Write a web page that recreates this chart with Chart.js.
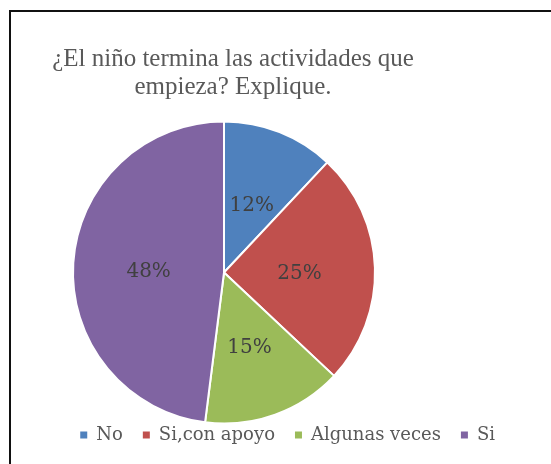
<!DOCTYPE html>
<html><head><meta charset="utf-8">
<script src="https://cdn.jsdelivr.net/npm/chart.js@4.4.1/dist/chart.umd.min.js"></script>
<style>
html,body{margin:0;padding:0;width:551px;height:464px;overflow:hidden;background:#fff;position:relative}
#frame{position:absolute;left:9px;top:10px;width:570px;height:480px;border:2px solid #111;box-sizing:border-box}
#wrap{position:absolute;left:-49px;top:0;width:564px;height:464px}
</style></head><body>
<div id="frame"></div>
<div id="wrap"><canvas id="c" width="564" height="464"></canvas></div>
<script>
const categories = ['No', 'Si,con apoyo', 'Algunas veces', 'Si'];
const percentages = [12, 25, 15, 48];
const sliceColors = ['#4F81BD', '#C0504D', '#9BBB59', '#8064A2'];
const titleLines = ['¿El niño termina las actividades que', 'empieza? Explique.'];

const shiftPie = {
  id: 'shiftPie',
  afterLayout(chart, args, opts) {
    chart.chartArea.left += opts.dx;
    chart.chartArea.right += opts.dx;
  }
};

const pieLabels = {
  id: 'pieLabels',
  afterDatasetsDraw(chart) {
    const ctx = chart.ctx;
    const meta = chart.getDatasetMeta(0);
    ctx.save();
    ctx.font = '20px "DejaVu Serif"';
    ctx.fillStyle = '#404040';
    ctx.textAlign = 'center';
    ctx.textBaseline = 'alphabetic';
    meta.data.forEach((arc, i) => {
      const p = arc.getCenterPoint();
      ctx.fillText(percentages[i] + '%', p.x, p.y + 9);
    });
    ctx.restore();
  }
};

new Chart(document.getElementById('c'), {
  type: 'pie',
  data: {
    labels: categories,
    datasets: [{
      data: percentages,
      backgroundColor: sliceColors,
      borderColor: '#ffffff',
      borderWidth: 2,
      radius: 151
    }]
  },
  options: {
    responsive: false,
    animation: false,
    layout: { padding: { top: 0, bottom: 10, left: 0, right: 0 } },
    plugins: {
      shiftPie: { dx: -9 },
      tooltip: { enabled: false },
      title: {
        display: true,
        text: titleLines,
        color: '#595959',
        font: { family: '"Liberation Serif"', size: 25, weight: 'normal', lineHeight: '28px' },
        padding: { top: 45, bottom: 38 }
      },
      legend: {
        position: 'bottom',
        align: 'end',
        labels: {
          color: '#595959',
          boxWidth: 7,
          boxHeight: 7,
          padding: 20,
          font: { family: '"DejaVu Serif"', size: 18 },
          generateLabels(chart) {
            return Chart.overrides.pie.plugins.legend.labels.generateLabels(chart)
              .map(l => Object.assign(l, { lineWidth: 0, strokeStyle: 'rgba(0,0,0,0)' }));
          }
        }
      }
    }
  },
  plugins: [shiftPie, pieLabels]
});
</script>
</body></html>
